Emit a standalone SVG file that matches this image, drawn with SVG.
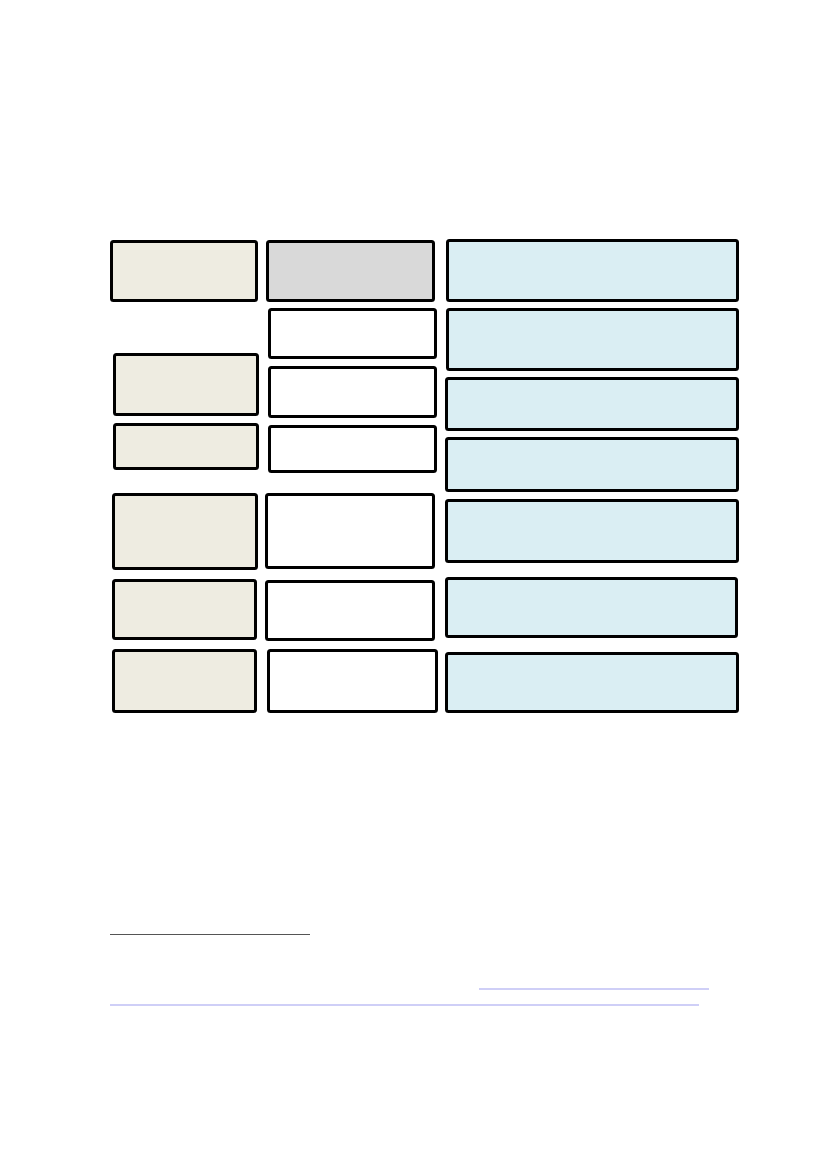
<svg xmlns="http://www.w3.org/2000/svg" width="827" height="1169" viewBox="0 0 827 1169">
<style>
.b{stroke:#000;stroke-width:3;}
.a{fill:#EEECE1;}
.g{fill:#D9D9D9;}
.w{fill:#FFFFFF;}
.c{fill:#DAEEF3;}
.rule{stroke:#555555;stroke-width:1.2;}
.link{stroke:#A0A0F0;stroke-width:1.2;}
</style>
<rect width="827" height="1169" fill="#FFFFFF"/>
<g id="a1"><rect class="b a" x="111.5" y="241.5" width="145" height="59" rx="2"/></g>
<g id="b1"><rect class="b g" x="267.5" y="241.5" width="166" height="59" rx="2"/></g>
<g id="c1"><rect class="b c" x="447.5" y="240.5" width="290" height="60" rx="2"/></g>
<g id="b2"><rect class="b w" x="269.5" y="309.5" width="166" height="48" rx="2"/></g>
<g id="c2"><rect class="b c" x="447.5" y="309.5" width="290" height="60" rx="2"/></g>
<g id="a2"><rect class="b a" x="114.5" y="354.5" width="143" height="60" rx="2"/></g>
<g id="b3"><rect class="b w" x="269.5" y="367.5" width="166" height="49" rx="2"/></g>
<g id="c3"><rect class="b c" x="446.5" y="378.5" width="291" height="51" rx="2"/></g>
<g id="a3"><rect class="b a" x="114.5" y="424.5" width="143" height="44" rx="2"/></g>
<g id="b4"><rect class="b w" x="269.5" y="426.5" width="166" height="45" rx="2"/></g>
<g id="c4"><rect class="b c" x="446.5" y="438.5" width="291" height="52" rx="2"/></g>
<g id="a4"><rect class="b a" x="113.5" y="494.5" width="143" height="74" rx="2"/></g>
<g id="b5"><rect class="b w" x="266.5" y="494.5" width="167" height="73" rx="2"/></g>
<g id="c5"><rect class="b c" x="446.5" y="500.5" width="291" height="61" rx="2"/></g>
<g id="a5"><rect class="b a" x="113.5" y="580.5" width="142" height="58" rx="2"/></g>
<g id="b6"><rect class="b w" x="266.5" y="581.5" width="167" height="58" rx="2"/></g>
<g id="c6"><rect class="b c" x="446.5" y="578.5" width="290" height="58" rx="2"/></g>
<g id="a6"><rect class="b a" x="113.5" y="650.5" width="142" height="61" rx="2"/></g>
<g id="b7"><rect class="b w" x="268.5" y="650.5" width="168" height="61" rx="2"/></g>
<g id="c7"><rect class="b c" x="446.5" y="653.5" width="291" height="58" rx="2"/></g>
<g id="connectors">
<line class="rule" x1="110" y1="934.5" x2="310" y2="934.5"/>
<line class="link" x1="479" y1="989" x2="709" y2="989"/>
<line class="link" x1="110" y1="1005" x2="699" y2="1005"/>
</g>
</svg>
